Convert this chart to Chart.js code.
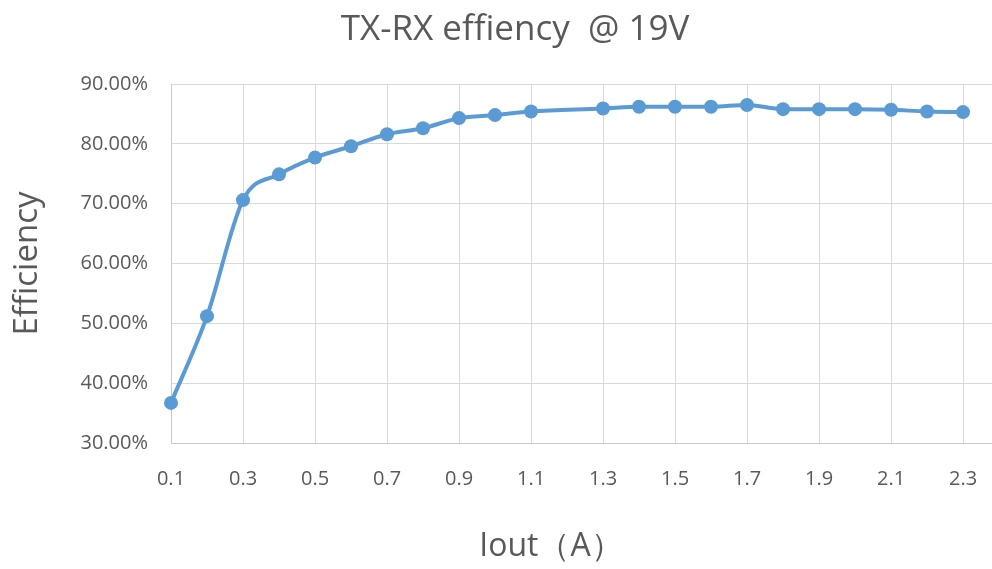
<!DOCTYPE html>
<html>
<head>
<meta charset="utf-8">
<script src="https://cdn.jsdelivr.net/npm/chart.js@4/dist/chart.umd.min.js"></script>
<style>
  html, body { margin: 0; padding: 0; overflow: hidden; background: #ffffff; }
  #wrap { width: 1030px; height: 569px; position: relative; }
</style>
</head>
<body>
<div id="wrap"><canvas id="c"></canvas></div>
<script>
// ---- data ----
const chartTitle = 'TX-RX effiency  @ 19V';
const xAxisTitle = 'Iout（A）';
const yAxisTitle = 'Efficiency';
const currentA = [0.1, 0.2, 0.3, 0.4, 0.5, 0.6, 0.7, 0.8, 0.9, 1.0, 1.1, 1.3, 1.4, 1.5, 1.6, 1.7, 1.8, 1.9, 2.0, 2.1, 2.2, 2.3];
const efficiencyPct = [36.7, 51.2, 70.6, 74.9, 77.7, 79.6, 81.6, 82.6, 84.3, 84.8, 85.4, 85.9, 86.2, 86.2, 86.2, 86.5, 85.8, 85.8, 85.8, 85.7, 85.4, 85.3];
const xTickValues = [0.1, 0.3, 0.5, 0.7, 0.9, 1.1, 1.3, 1.5, 1.7, 1.9, 2.1, 2.3];
const yTickValues = [30, 40, 50, 60, 70, 80, 90];

const points = currentA.map((x, i) => ({ x: x, y: efficiencyPct[i] }));

const FONT = '"Open Sans", "Noto Sans", sans-serif';
const TEXT = '#595959';
const BLUE = '#5B9BD5';

const xTitlePlugin = {
  id: 'xTitle',
  afterDraw(chart) {
    const ctx = chart.ctx;
    ctx.save();
    ctx.font = '32px ' + FONT;
    ctx.fillStyle = TEXT;
    ctx.textAlign = 'center';
    ctx.textBaseline = 'middle';
    ctx.fillText(xAxisTitle, 551, 547);
    ctx.restore();
  }
};

new Chart(document.getElementById('c'), {
  type: 'line',
  data: {
    datasets: [{
      data: points,
      borderColor: BLUE,
      backgroundColor: BLUE,
      borderWidth: 4,
      pointRadius: 7,
      pointHoverRadius: 7,
      pointBorderWidth: 0,
      cubicInterpolationMode: 'monotone',
      clip: false,
      fill: false
    }]
  },
  options: {
    responsive: true,
    maintainAspectRatio: false,
    animation: false,
    devicePixelRatio: 1,
    layout: { autoPadding: false, padding: { left: 0, right: 0, top: 0, bottom: 0 } },
    plugins: {
      legend: { display: false },
      tooltip: { enabled: false },
      title: {
        display: true,
        text: chartTitle,
        color: TEXT,
        font: { family: FONT, size: 35, weight: 'normal' },
        padding: { top: 9, bottom: 33 }
      }
    },
    scales: {
      x: {
        type: 'linear',
        min: 0.1,
        max: 2.486,
        afterBuildTicks(scale) { scale.ticks = xTickValues.map(v => ({ value: v })); },
        afterFit(scale) { scale.height = 126; },
        ticks: {
          color: TEXT,
          font: { family: FONT, size: 20 },
          padding: 24,
          maxRotation: 0,
          autoSkip: false,
          callback: v => Number(v).toFixed(1)
        },
        grid: { color: '#d9d9d9', lineWidth: 1, drawTicks: false },
        border: { color: '#c8c8c8', width: 1 }
      },
      y: {
        min: 30,
        max: 90,
        afterBuildTicks(scale) { scale.ticks = yTickValues.map(v => ({ value: v })); },
        afterFit(scale) { scale.width = 171; },
        ticks: {
          color: TEXT,
          font: { family: FONT, size: 20 },
          padding: 23,
          callback: v => Number(v).toFixed(2) + '%'
        },
        title: {
          display: true,
          text: yAxisTitle,
          color: TEXT,
          font: { family: FONT, size: 33, weight: 'normal' },
          padding: { top: 8, bottom: 0 }
        },
        grid: { color: '#d9d9d9', lineWidth: 1, drawTicks: false },
        border: { color: '#c8c8c8', width: 1 }
      }
    }
  },
  plugins: [xTitlePlugin]
});
</script>
</body>
</html>
